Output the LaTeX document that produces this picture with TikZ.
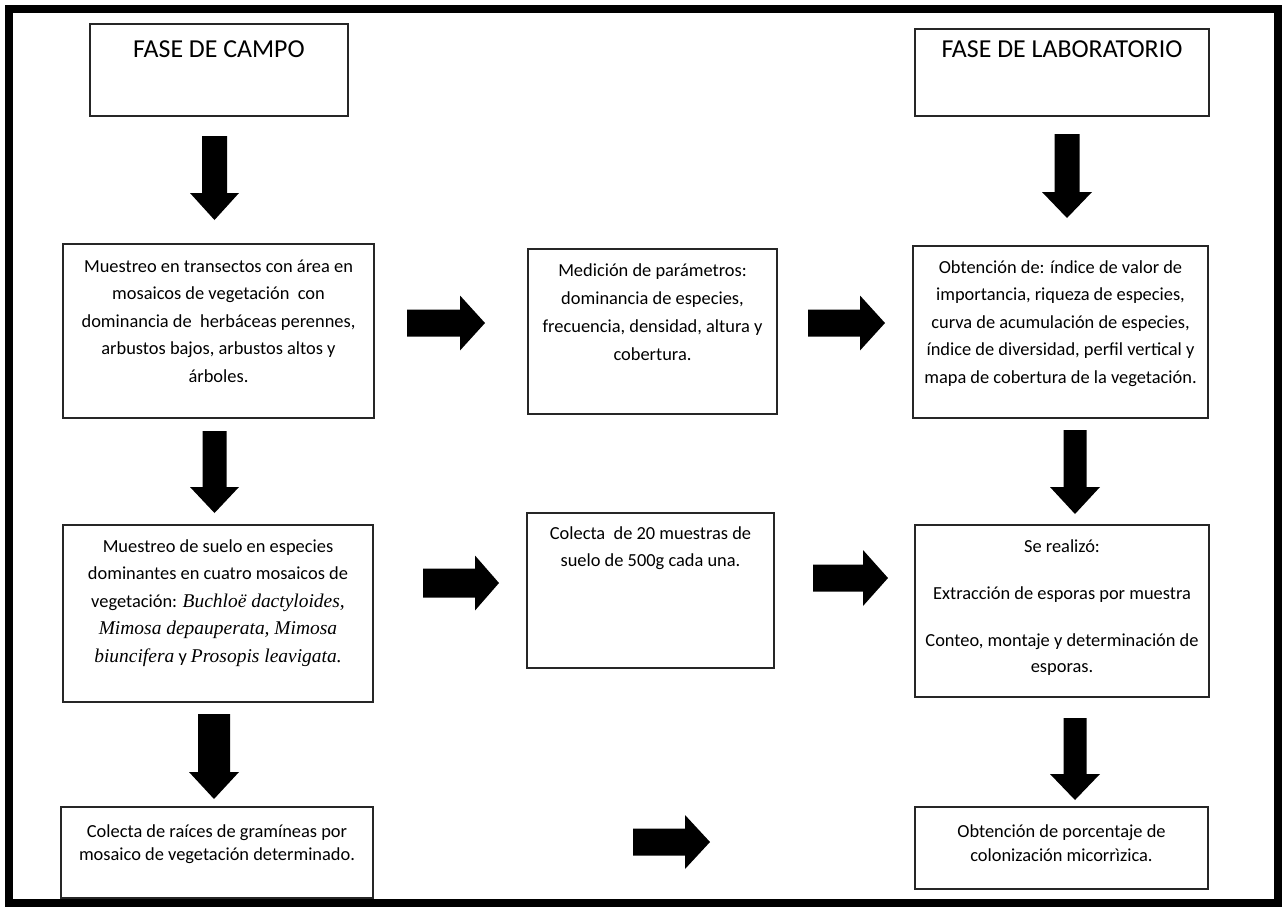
\documentclass[tikz,border=0pt]{standalone}
\usepackage{fontspec}
\setmainfont{Carlito}
\newfontfamily\serifit{Liberation Serif}
\newcommand\fl{\rule{0pt}{12pt}}
\newcommand\spname[1]{{\serifit\itshape\fontsize{14.6}{20.6}\selectfont #1}}
% block arrow pointing down: cx, tail y, tip y, shaft width, head width, head length (px)
\newcommand\blkdown[7]{\fill[blkfill] ({#2-#5/2},#3) coordinate (#1-tail) -- ({#2+#5/2},#3) -- ({#2+#5/2},{#4-#7}) -- ({#2+#6/2},{#4-#7}) -- (#2,#4) coordinate (#1-tip) -- ({#2-#6/2},{#4-#7}) -- ({#2-#5/2},{#4-#7}) -- cycle;}
% block arrow pointing right: cy, tail x, tip x, shaft width, head width, head length (px)
\newcommand\blkright[7]{\fill[blkfill] (#3,{#2-#5/2}) coordinate (#1-tail) -- ({#4-#7},{#2-#5/2}) -- ({#4-#7},{#2-#6/2}) -- (#4,#2) coordinate (#1-tip) -- ({#4-#7},{#2+#6/2}) -- ({#4-#7},{#2+#5/2}) -- (#3,{#2+#5/2}) -- cycle;}
\tikzset{
  box/.style={draw=black!85, line width=0.9pt, inner sep=0pt, fill=white},
  txt/.style={align=center, inner sep=0pt, anchor=north, yshift=12pt, font=\fontsize{13.8}{20.6}\selectfont},
  headtxt/.style={anchor=base, inner sep=0pt, font=\fontsize{19.4}{23}\selectfont},
  blkfill/.style={fill=black},
}
\begin{document}
\begin{tikzpicture}[x=0.75pt,y=-0.75pt]
\useasboundingbox (0,0) rectangle (1283,908);
\fill[white] (0,0) rectangle (1283,908);
\draw[line width=6pt] (9,9) rectangle (1277.5,903);

% phase headers
\node[box, minimum width=193.5pt, minimum height=69pt] (campo) at (219,70) {};
\node[headtxt] (campot) at (219,57) {FASE DE CAMPO};
\node[box, minimum width=220.5pt, minimum height=65.25pt] (lab) at (1062,72.5) {};
\node[headtxt] (labt) at (1062,57) {FASE DE LABORATORIO};

% left column
\node[box, minimum width=233.25pt, minimum height=130.5pt] (b1) at (218.5,331) {};
\node[txt] (b1t) at (218.5,272) {\fl Muestreo en transectos con área en\\
mosaicos de vegetación\ \ con\\
dominancia de\ \ herbáceas perennes,\\
arbustos bajos, arbustos altos y\\
árboles.};

\node[box, minimum width=232.5pt, minimum height=132.75pt] (b2) at (218,613.5) {};
\node[txt] (b2t) at (218,552) {\fl Muestreo de suelo en especies\\
dominantes en cuatro mosaicos de\\
vegetación: \spname{Buchloë dactyloides,}\\
\spname{Mimosa depauperata, Mimosa}\\
\spname{biuncifera} y \spname{Prosopis leavigata.}};

\node[box, minimum width=234pt, minimum height=68.25pt] (b3) at (217,852.5) {};
\node[txt, font=\fontsize{13.8}{17.6}\selectfont] (b3t) at (217,837) {\fl Colecta de raíces de gramíneas por\\
mosaico de vegetación determinado.};

% middle column
\node[box, minimum width=186.75pt, minimum height=123.75pt] (m1) at (652.5,331.5) {};
\node[txt, font=\fontsize{13.8}{21}\selectfont] (m1t) at (652.5,276) {\fl Medición de parámetros:\\
dominancia de especies,\\
frecuencia, densidad, altura y\\
cobertura.};

\node[box, minimum width=185.25pt, minimum height=116.25pt] (m2) at (650.5,590.5) {};
\node[txt, font=\fontsize{13.8}{20.25}\selectfont] (m2t) at (650.5,539) {\fl Colecta\ \ de 20 muestras de\\
suelo de 500g cada una.};

% right column
\node[box, minimum width=221.25pt, minimum height=129pt] (r1) at (1060.5,332) {};
\node[txt] (r1t) at (1060.5,273) {\fl Obtención de: índice de valor de\\
importancia, riqueza de especies,\\
curva de acumulación de especies,\\
índice de diversidad, perfil vertical y\\
mapa de cobertura de la vegetación.};

\node[box, minimum width=220.5pt, minimum height=129pt] (r2) at (1062,611) {};
\node[txt, font=\fontsize{13.8}{19.5}\selectfont] (r2t) at (1062,552) {\fl Se realizó:\\[15.75pt]
Extracción de esporas por muestra\\[15.75pt]
Conteo, montaje y determinación de\\
esporas.};

\node[box, minimum width=219.75pt, minimum height=61.5pt] (r3) at (1061.5,848) {};
\node[txt, font=\fontsize{13.8}{18}\selectfont] (r3t) at (1061.5,837) {\fl Obtención de porcentaje de\\
colonización micorrìzica.};

% block arrows (down)
\blkdown{a1}{214.5}{136}{220}{25}{49}{27}
\blkdown{a2}{214.5}{431}{513}{24}{49}{26}
\blkdown{a3}{214}{714}{799}{32}{50}{27}
\blkdown{l1}{1067}{134}{218}{25}{50}{26}
\blkdown{l2}{1075}{430}{514}{23}{50}{27}
\blkdown{l3}{1075}{718}{800}{23}{50}{26}
% block arrows (right)
\blkright{h1}{323}{407}{485}{27}{55}{25}
\blkright{h2}{323}{808}{885}{27}{55}{25}
\blkright{h3}{583}{423}{499}{29}{55}{24}
\blkright{h4}{578}{813}{888}{27}{56}{25}
\blkright{h5}{842}{633}{710}{27}{54}{25}
\end{tikzpicture}
\end{document}
